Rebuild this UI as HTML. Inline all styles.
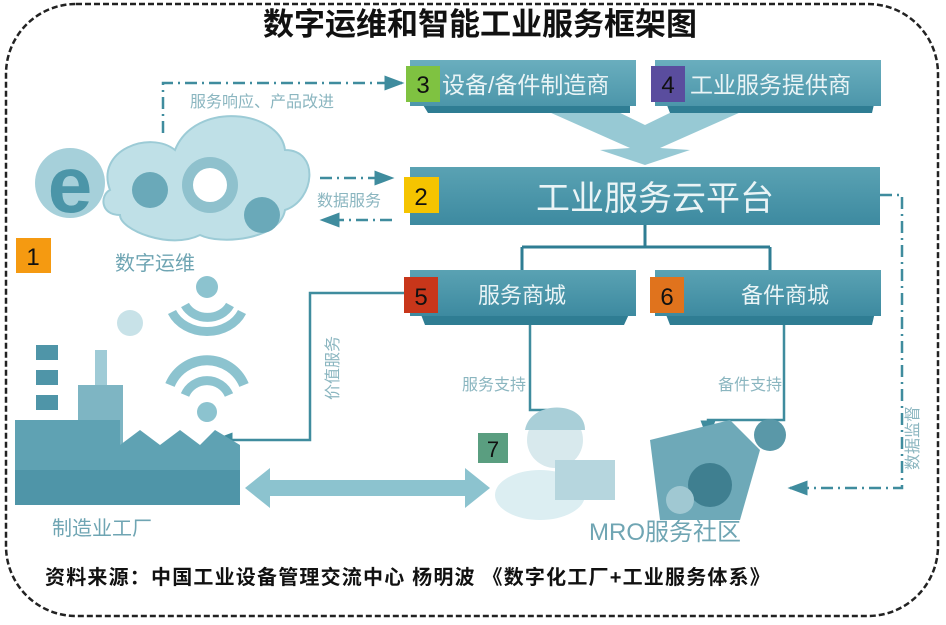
<!DOCTYPE html>
<html><head><meta charset="utf-8"><style>
body{margin:0;background:#fff;}
svg{display:block;font-family:"Liberation Sans","Noto Sans CJK SC",sans-serif;}
</style></head><body>
<svg width="946" height="625" viewBox="0 0 946 625" xmlns="http://www.w3.org/2000/svg">
<defs>
<linearGradient id="bx" x1="0" y1="0" x2="0" y2="1"><stop offset="0" stop-color="#5aa2b3"/><stop offset="1" stop-color="#3d8aa0"/></linearGradient>
<linearGradient id="bx2" x1="0" y1="0" x2="0" y2="1"><stop offset="0" stop-color="#6aaebe"/><stop offset="1" stop-color="#4c96aa"/></linearGradient>
<marker id="ah" markerWidth="8" markerHeight="8" refX="7" refY="4" orient="auto"><path d="M0,1 L8,4 L0,7z" fill="#3f8c9e"/></marker>
</defs>
<rect x="6" y="4" width="932" height="612" rx="70" fill="none" stroke="#222" stroke-width="2.5" stroke-dasharray="6,3"/>
<text x="480" y="35" font-size="31" font-weight="bold" text-anchor="middle" fill="#111">数字运维和智能工业服务框架图</text>

<!-- big merging arrow -->
<path d="M540,108 L610,108 L645,125 L680,108 L750,108 L660,148 L690,150 L645,165 L600,150 L630,148 Z" fill="#8cc3cf" opacity="0.9"/>

<!-- top boxes -->
<path d="M420,100 L630,100 L630,113 L428,113Z" fill="#2f7d93"/>
<rect x="410" y="60" width="226" height="46" fill="url(#bx2)"/>
<path d="M665,100 L875,100 L872,113 L670,113Z" fill="#2f7d93"/>
<rect x="655" y="60" width="226" height="46" fill="url(#bx2)"/>
<rect x="406" y="66" width="34" height="36" fill="#7fc241"/>
<text x="423" y="93" font-size="24" text-anchor="middle" fill="#111">3</text>
<text x="442" y="93" font-size="23" fill="#eaf4f6">设备/备件制造商</text>
<rect x="651" y="66" width="34" height="36" fill="#5a4d9e"/>
<text x="668" y="93" font-size="24" text-anchor="middle" fill="#111">4</text>
<text x="690" y="93" font-size="23" fill="#eaf4f6">工业服务提供商</text>

<!-- platform -->
<rect x="410" y="167" width="470" height="58" fill="url(#bx)"/>
<rect x="404" y="177" width="35" height="36" fill="#f5c400"/>
<text x="421" y="205" font-size="24" text-anchor="middle" fill="#111">2</text>
<text x="655" y="210" font-size="34" text-anchor="middle" fill="#eaf4f6">工业服务云平台</text>

<!-- tree connectors -->
<path d="M645,225 L645,247 M522,247 L770,247 M522,247 L522,270 M770,247 L770,270" stroke="#2f7d93" stroke-width="3" fill="none"/>

<!-- store boxes -->
<path d="M420,312 L630,312 L624,325 L425,325Z" fill="#2f7d93"/>
<rect x="410" y="270" width="226" height="46" fill="url(#bx)"/>
<path d="M665,312 L875,312 L872,325 L670,325Z" fill="#2f7d93"/>
<rect x="655" y="270" width="226" height="46" fill="url(#bx)"/>
<rect x="404" y="277" width="34" height="36" fill="#c8361a"/>
<text x="421" y="305" font-size="24" text-anchor="middle" fill="#111">5</text>
<text x="522" y="303" font-size="22" text-anchor="middle" fill="#eaf4f6">服务商城</text>
<rect x="650" y="277" width="34" height="36" fill="#e0731d"/>
<text x="667" y="305" font-size="24" text-anchor="middle" fill="#111">6</text>
<text x="785" y="303" font-size="22" text-anchor="middle" fill="#eaf4f6">备件商城</text>

<!-- dashed connectors -->
<path d="M163,133 L163,83 L402,83" stroke="#3f8c9e" stroke-width="2.5" fill="none" stroke-dasharray="12,5,2,5" marker-end="url(#ah)"/>
<text x="190" y="107" font-size="16" fill="#8bb6c0">服务响应、产品改进</text>
<path d="M320,178 L392,178" stroke="#3f8c9e" stroke-width="2.5" stroke-dasharray="12,5,2,5" marker-end="url(#ah)"/>
<path d="M392,220 L322,220" stroke="#3f8c9e" stroke-width="2.5" stroke-dasharray="12,5,2,5" marker-end="url(#ah)"/>
<text x="317" y="206" font-size="16" fill="#8bb6c0">数据服务</text>
<path d="M880,195 L902,195 L902,488 L790,488" stroke="#3f8c9e" stroke-width="2.5" fill="none" stroke-dasharray="12,5,2,5" marker-end="url(#ah)"/>
<text x="0" y="0" font-size="16" fill="#8bb6c0" transform="translate(918,470) rotate(-90)">数据监督</text>

<!-- solid connectors -->
<path d="M404,293 L310,293 L310,440 L215,440" stroke="#3f8c9e" stroke-width="2.5" fill="none" marker-end="url(#ah)"/>
<text x="0" y="0" font-size="16" fill="#8bb6c0" transform="translate(338,400) rotate(-90)">价值服务</text>
<path d="M530,325 L530,410 L556,410 L556,432" stroke="#3f8c9e" stroke-width="2.5" fill="none" marker-end="url(#ah)"/>
<text x="462" y="390" font-size="16" fill="#8bb6c0">服务支持</text>
<path d="M784,325 L784,420 L708,420 L708,438" stroke="#3f8c9e" stroke-width="2.5" fill="none" marker-end="url(#ah)"/>
<text x="718" y="390" font-size="16" fill="#8bb6c0">备件支持</text>

<!-- e + cloud -->
<circle cx="70" cy="183" r="35" fill="#a6d0da"/>
<text x="70" y="212" font-size="80" font-weight="bold" text-anchor="middle" fill="#4b95a8">e</text>
<path d="M110,190 C95,150 150,130 175,150 C195,100 280,110 285,150 C320,150 315,200 285,210 C280,240 220,245 200,235 C170,250 120,230 120,215 C100,215 100,195 110,190Z" fill="#bfe0e7" stroke="#9ccbd6" stroke-width="2"/>
<circle cx="210" cy="185" r="28" fill="#8fc1cd"/><circle cx="210" cy="185" r="17" fill="#fff"/>
<circle cx="150" cy="190" r="18" fill="#6aa9b9"/><circle cx="262" cy="215" r="18" fill="#6aa9b9"/>
<rect x="16" y="238" width="35" height="35" fill="#f59a11"/>
<text x="33" y="265" font-size="24" text-anchor="middle" fill="#111">1</text>
<text x="115" y="270" font-size="20" fill="#6fa5b3">数字运维</text>

<!-- wifi -->
<circle cx="207" cy="287" r="11" fill="#8cc3cf"/>
<path d="M185,305 A25,22 0 0 0 230,305" stroke="#8cc3cf" stroke-width="9" fill="none"/>
<path d="M172,312 A38,32 0 0 0 242,312" stroke="#8cc3cf" stroke-width="9" fill="none"/>
<path d="M170,385 A40,40 0 0 1 244,385" stroke="#8cc3cf" stroke-width="10" fill="none"/>
<path d="M185,395 A24,24 0 0 1 229,395" stroke="#8cc3cf" stroke-width="9" fill="none"/>
<circle cx="207" cy="412" r="10" fill="#8cc3cf"/>
<circle cx="130" cy="323" r="13" fill="#c8e2e8"/>

<!-- factory -->
<rect x="36" y="345" width="22" height="95" fill="#4f95a8"/>
<rect x="36" y="360" width="22" height="10" fill="#fff"/><rect x="36" y="385" width="22" height="10" fill="#fff"/><rect x="36" y="410" width="22" height="10" fill="#fff"/>
<rect x="95" y="350" width="12" height="80" fill="#9fcbd6"/>
<rect x="78" y="385" width="45" height="60" fill="#7eb5c3"/>
<path d="M15,420 L120,420 L120,445 L140,430 L160,445 L180,430 L200,445 L215,430 L240,445 L240,505 L15,505Z" fill="#5fa2b3"/>
<rect x="15" y="470" width="225" height="35" fill="#4f95a8"/>
<text x="52" y="535" font-size="20" fill="#6fa5b3">制造业工厂</text>

<!-- double arrow -->
<path d="M245,488 L270,468 L270,480 L465,480 L465,468 L490,488 L465,508 L465,496 L270,496 L270,508Z" fill="#8cc3cf"/>

<!-- MRO -->
<rect x="478" y="433" width="30" height="30" fill="#5a9e80"/>
<text x="493" y="457" font-size="22" text-anchor="middle" fill="#111">7</text>
<circle cx="555" cy="440" r="28" fill="#d8e9ed"/>
<path d="M525,430 C530,400 585,400 585,430Z" fill="#a9cfd8"/>
<ellipse cx="540" cy="495" rx="45" ry="25" fill="#dceef2"/>
<rect x="555" y="460" width="60" height="40" fill="#b6d6de"/>
<path d="M650,440 L730,420 L760,450 L740,520 L660,520Z" fill="#6ea9b8"/>
<circle cx="710" cy="485" r="22" fill="#3f7f90"/><circle cx="770" cy="435" r="16" fill="#5a98a8"/>
<circle cx="680" cy="500" r="14" fill="#a0c8d2"/>
<text x="665" y="540" font-size="24" text-anchor="middle" fill="#6fa5b3">MRO服务社区</text>

<text x="45" y="584" font-size="20" font-weight="bold" letter-spacing="1.2" fill="#111">资料来源：中国工业设备管理交流中心  杨明波  《数字化工厂+工业服务体系》</text>
</svg>
</body></html>
